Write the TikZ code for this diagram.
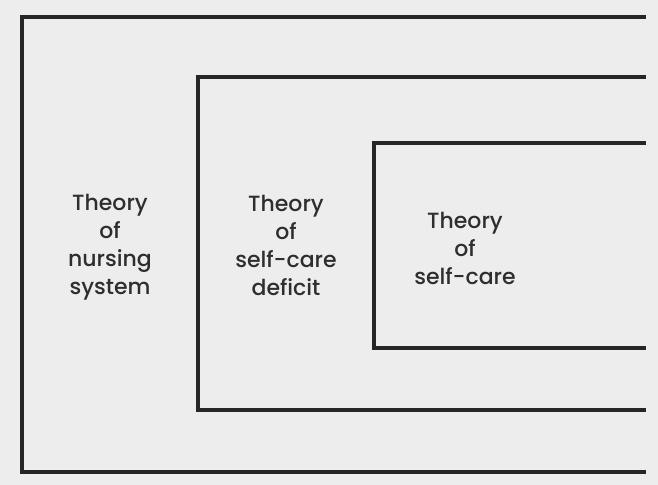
\documentclass[tikz,border=0pt]{standalone}
\usepackage{fontspec}
\setmainfont{Poppins}[UprightFont=* Medium]
\begin{document}
\begin{tikzpicture}[x=0.75pt,y=-0.75pt,
  frame/.style={draw=black!85, line width=2.8pt, line join=miter},
  label/.style={align=center, text=black!82, font=\fontsize{16.5}{21}\selectfont, inner sep=0pt}]
  % paper
  \fill[black!7] (0,0) rectangle (658,485);
  \useasboundingbox (0,0) rectangle (658,485);
  % three nested frames, open to the right
  \draw[frame] (646,17) -- (22,17) -- (22,472) -- (646,472);
  \draw[frame] (646,77) -- (198,77) -- (198,410) -- (646,410);
  \draw[frame] (646,143) -- (374,143) -- (374,348) -- (646,348);
  % theory labels
  \node[label] (nursing) at (110,247) {Theory\\of\\nursing\\system};
  \node[label] (deficit) at (286,245) {Theory\\of\\self-care\\deficit};
  \node[label] (selfcare) at (465,248) {Theory\\of\\self-care};
\end{tikzpicture}
\end{document}
